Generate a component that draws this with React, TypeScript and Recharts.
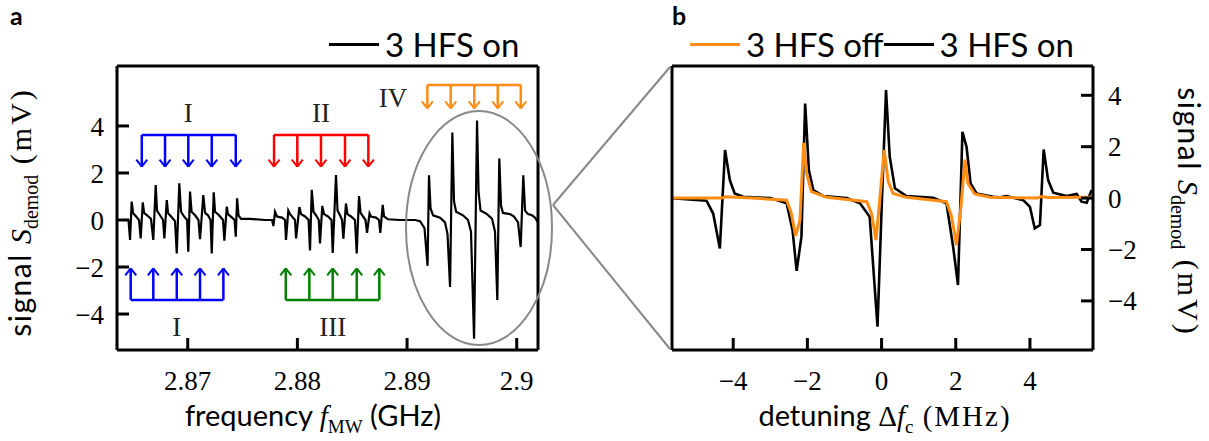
import React from "react";
import { LineChart, Line, XAxis, YAxis, ReferenceLine, ReferenceDot } from "recharts";

// panel a: microwave frequency (MHz) vs demodulated signal (mV)
const spectrumGroupI: [number, number][] = [
  [2863.55, 0.0], [2864.6, 0.0], [2864.74, -0.85], [2864.89, 0.78], [2865.01, 0.3], [2865.29, 0.15], [2865.56, 0.0],
  [2865.71, -0.78], [2865.9, 0.75], [2866.02, 0.3], [2866.29, 0.2], [2866.65, 0.05],
  [2866.86, -0.85], [2867.08, 1.49], [2867.2, 0.4], [2867.47, 0.2], [2867.75, 0.0],
  [2867.87, -0.78], [2868.09, 0.85], [2868.2, 0.3], [2868.48, 0.15], [2868.84, -0.05],
  [2869.0, -1.42], [2869.23, 1.56], [2869.39, 0.35], [2869.66, 0.15], [2869.94, 0.0],
  [2870.05, -1.35], [2870.21, 1.21], [2870.35, 0.35], [2870.67, 0.2], [2870.98, 0.0],
  [2871.12, -0.82], [2871.42, 1.06], [2871.58, 0.3], [2871.85, 0.2], [2872.08, 0.0],
  [2872.19, -1.42], [2872.37, 1.18], [2872.49, 0.35], [2872.85, 0.2], [2873.22, 0.0],
  [2873.34, -0.88], [2873.56, 0.57], [2873.67, 0.25], [2874.04, 0.1], [2874.27, 0.0],
  [2874.38, -0.71], [2874.5, 0.92], [2874.63, 0.2], [2874.86, 0.05], [2875.68, 0.05], [2877.05, 0.0], [2877.69, 0.0],
];
const spectrumGroupII: [number, number][] = [
  [2877.81, -0.26], [2877.96, 0.35], [2878.14, 0.15], [2878.6, 0.1], [2878.87, 0.0],
  [2878.96, -0.85], [2879.17, 0.4], [2879.33, 0.25], [2879.6, 0.1], [2879.78, 0.0],
  [2879.88, -0.78], [2880.18, 0.55], [2880.33, 0.25], [2880.7, 0.15], [2881.02, 0.0],
  [2881.15, -1.3], [2881.31, 1.28], [2881.47, 0.35], [2881.7, 0.2], [2881.95, 0.0],
  [2882.06, -1.0], [2882.27, 0.6], [2882.43, 0.25], [2882.79, 0.15], [2883.11, 0.0],
  [2883.22, -1.4], [2883.52, 1.91], [2883.66, 0.4], [2883.89, 0.2], [2884.07, 0.0],
  [2884.19, -0.8], [2884.43, 0.7], [2884.57, 0.25], [2884.89, 0.15], [2885.25, 0.0],
  [2885.41, -1.42], [2885.62, 1.02], [2885.76, 0.3], [2885.98, 0.15], [2886.21, 0.0],
  [2886.35, -0.55], [2886.58, 0.28], [2886.71, 0.15], [2887.17, 0.1], [2887.44, 0.0],
  [2887.56, -0.55], [2887.78, 0.64], [2887.9, 0.15], [2888.26, 0.03], [2889.36, 0.0], [2890.73, 0.0],
];
const spectrumGroupIV: [number, number][] = [
  [2891.18, -0.05], [2891.59, -0.35], [2891.87, -1.95], [2892.0, 1.9], [2892.14, 0.5], [2892.37, 0.2], [2893.01, 0.1],
  [2893.46, -0.1], [2893.69, -0.6], [2893.92, -2.85], [2894.13, 3.72], [2894.28, 0.8], [2894.47, 0.35], [2895.1, 0.2],
  [2895.56, 0.0], [2895.83, -0.5], [2896.11, -5.05], [2896.38, 4.23], [2896.52, 1.2], [2896.7, 0.4], [2897.29, 0.25],
  [2897.75, 0.05], [2898.02, -0.5], [2898.23, -3.4], [2898.41, 2.62], [2898.57, 0.6], [2898.75, 0.3], [2899.39, 0.25],
  [2899.75, 0.15], [2900.12, -0.1], [2900.36, -1.15], [2900.6, 1.9], [2900.76, 0.4], [2901.03, 0.25], [2901.4, 0.2],
  [2901.67, 0.1], [2901.94, -0.1],
];

// hyperfine combs (MHz) drawn above / below the spectrum
const combTopI = [2865.81, 2867.93, 2870.05, 2872.19, 2874.38];
const combII = [2877.87, 2879.99, 2882.15, 2884.34, 2886.47];
const combIV = [2891.85, 2893.98, 2896.13, 2898.27, 2900.37];
const combBottomI = [2864.8, 2866.86, 2869.0, 2871.12, 2873.25];
const combIII = [2878.94, 2881.09, 2883.22, 2885.41, 2887.47];

// panel b: detuning (MHz) vs signal (mV)
const hfsOn: [number, number][] = [
  [-5.66, 0.0], [-4.72, -0.1], [-4.54, -0.6], [-4.36, -1.96], [-4.22, 1.87], [-4.09, 0.7], [-3.96, 0.18], [-3.73, 0.05],
  [-3.0, 0.0], [-2.56, -0.2], [-2.4, -1.25], [-2.29, -2.83], [-2.16, -1.5], [-2.06, 3.68], [-1.96, 1.09], [-1.84, 0.31],
  [-1.57, 0.08], [-0.94, 0.0], [-0.58, -0.2], [-0.32, -0.73], [-0.11, -5.0], [0.0, -0.47], [0.12, 4.2], [0.22, 1.61],
  [0.36, 0.38], [0.67, 0.08], [1.39, 0.01], [1.75, -0.2], [1.93, -1.9], [2.06, -3.38], [2.18, 2.58], [2.29, 2.0],
  [2.4, 0.57], [2.56, 0.18], [3.01, 0.05], [3.2, 0.03], [3.37, 0.08], [3.5, 0.03], [3.82, -0.08], [4.0, -0.34],
  [4.13, -1.18], [4.27, -1.05], [4.37, 1.89], [4.49, 0.7], [4.63, 0.21], [4.99, 0.08], [5.26, 0.16], [5.39, -0.14],
  [5.53, -0.18], [5.66, 0.31],
];
const hfsOff: [number, number][] = [
  [-5.66, 0.0], [-4.3, 0.0], [-4.22, 0.05], [-3.5, 0.0], [-2.56, -0.08], [-2.43, -0.6], [-2.32, -1.47], [-2.2, -0.86],
  [-2.1, 2.15], [-2.02, 0.96], [-1.89, 0.25], [-1.48, 0.03], [-0.4, -0.14], [-0.27, -0.6], [-0.15, -1.63], [-0.05, -0.08],
  [0.07, 1.87], [0.18, 0.64], [0.31, 0.18], [0.67, 0.03], [1.75, -0.14], [1.89, -0.73], [2.02, -1.83], [2.14, -0.34],
  [2.25, 1.5], [2.33, 0.57], [2.51, 0.16], [2.92, 0.03], [4.2, 0.0], [4.3, 0.06], [4.5, 0.02], [5.66, 0.03],
];

const freqTicks = [2870, 2880, 2890, 2900];
const signalTicks = [-4, -2, 0, 2, 4];
const detuningTicks = [-4, -2, 0, 2, 4];

const SANS = 'Lato, "DejaVu Sans", sans-serif';
const SERIF = '"Liberation Serif", "DejaVu Serif", serif';
const ORANGE = "#ff8c14";

const toRows = (pts: [number, number][]) => pts.map(([x, y]) => ({ x, y }));
const spectrumRows = toRows([...spectrumGroupI, ...spectrumGroupII, ...spectrumGroupIV]);
const onRows = toRows(hfsOn);
const offRows = toRows(hfsOff);

const minus = (v: number) => String(v).replace("-", "\u2212");
const tickFont = { fontSize: 27, fontFamily: SERIF, fill: "#000" };
const frame = { stroke: "#000", strokeWidth: 3 };

function comb(xs: number[], barY: number, tipY: number, color: string, key: string) {
  const dx = 0.5;
  const dy = tipY < barY ? 0.3 : -0.3;
  const items: React.ReactNode[] = [];
  items.push(
    <ReferenceLine key={key + "bar"} segment={[{ x: xs[0], y: barY }, { x: xs[xs.length - 1], y: barY }]} stroke={color} strokeWidth={2.5} />
  );
  xs.forEach((x, i) => {
    items.push(<ReferenceLine key={key + "s" + i} segment={[{ x, y: barY }, { x, y: tipY }]} stroke={color} strokeWidth={2.5} />);
    items.push(<ReferenceLine key={key + "l" + i} segment={[{ x: x - dx, y: tipY + dy }, { x, y: tipY }]} stroke={color} strokeWidth={2} />);
    items.push(<ReferenceLine key={key + "r" + i} segment={[{ x: x + dx, y: tipY + dy }, { x, y: tipY }]} stroke={color} strokeWidth={2} />);
  });
  return items;
}

function numeral(x: number, y: number, text: string) {
  return (
    <ReferenceDot key={"n" + text + x} x={x} y={y} r={0} fill="none" stroke="none"
      label={{ value: text, position: "center", fill: "#222", fontSize: 27, fontFamily: SERIF }} />
  );
}

function PanelA() {
  return (
    <LineChart width={560} height={441} data={spectrumRows} margin={{ top: 65, right: 21, bottom: 61, left: 57 }}>
      <XAxis dataKey="x" type="number" domain={[2863.55, 2901.94]} allowDataOverflow ticks={freqTicks}
        tickFormatter={(v: number) => String(v / 1000)} tick={tickFont} tickSize={-12} tickMargin={33}
        axisLine={frame} tickLine={frame} height={30} />
      <XAxis xAxisId="t" orientation="top" type="number" domain={[2863.55, 2901.94]} allowDataOverflow ticks={freqTicks}
        tick={false} tickSize={-12} axisLine={frame} tickLine={frame} height={1} />
      <YAxis type="number" domain={[-5.53, 6.55]} allowDataOverflow ticks={signalTicks} tickFormatter={minus}
        tick={tickFont} tickSize={-12} tickMargin={25} axisLine={frame} tickLine={frame} width={60} />
      <YAxis yAxisId="r" orientation="right" type="number" domain={[-5.53, 6.55]} allowDataOverflow ticks={signalTicks}
        tick={false} tickSize={-12} axisLine={frame} tickLine={frame} width={1} />
      {comb(combTopI, 3.62, 2.27, "#0000ff", "ti")}
      {comb(combII, 3.62, 2.27, "#ff0000", "ii")}
      {comb(combIV, 5.74, 4.75, ORANGE, "iv")}
      {comb(combBottomI, -3.4, -2.06, "#0000ff", "bi")}
      {comb(combIII, -3.4, -2.06, "#008000", "iii")}
      {numeral(2870.05, 4.57, "I")}
      {numeral(2882.15, 4.57, "II")}
      {numeral(2888.72, 5.23, "IV")}
      {numeral(2869.0, -4.51, "I")}
      {numeral(2883.22, -4.51, "III")}
      <Line dataKey="y" type="linear" stroke="#000" strokeWidth={2.2} dot={false} isAnimationActive={false} />
    </LineChart>
  );
}

function PanelB() {
  return (
    <LineChart width={609} height={441} margin={{ top: 65, right: 56, bottom: 61, left: 71 }}>
      <XAxis dataKey="x" type="number" domain={[-5.65, 5.7]} allowDataOverflow ticks={detuningTicks}
        tickFormatter={minus} tick={tickFont} tickSize={-12} tickMargin={33} axisLine={frame} tickLine={frame} height={30} />
      <XAxis xAxisId="t" orientation="top" type="number" domain={[-5.65, 5.7]} allowDataOverflow ticks={detuningTicks}
        tick={false} tickSize={-12} axisLine={frame} tickLine={frame} height={1} />
      <YAxis orientation="right" type="number" domain={[-5.91, 5.14]} allowDataOverflow ticks={signalTicks}
        tickFormatter={minus} tick={tickFont} tickSize={-12} tickMargin={27} axisLine={frame} tickLine={frame} width={60} />
      <YAxis yAxisId="l" orientation="left" type="number" domain={[-5.91, 5.14]} allowDataOverflow ticks={signalTicks}
        tick={false} tickSize={-12} axisLine={frame} tickLine={frame} width={1} />
      <Line data={onRows} dataKey="y" type="linear" stroke="#000" strokeWidth={2.6} dot={false} isAnimationActive={false} />
      <Line data={offRows} dataKey="y" type="linear" stroke={ORANGE} strokeWidth={3} dot={false} isAnimationActive={false} />
    </LineChart>
  );
}

const abs = (left: number, top: number, extra: React.CSSProperties = {}): React.CSSProperties => ({
  position: "absolute", left, top, whiteSpace: "nowrap", ...extra,
});

function LegendItem({ color, text }: { color: string; text: string }) {
  return (
    <span style={{ display: "inline-flex", alignItems: "center" }}>
      <span style={{ display: "inline-block", width: 50, height: 3, background: color, marginRight: 6 }} />
      <span>{text}</span>
    </span>
  );
}

const label: React.CSSProperties = { fontSize: 29, lineHeight: "36px" };
const vlabel: React.CSSProperties = { fontSize: 30, lineHeight: "36px" };
const sub: React.CSSProperties = { fontFamily: SERIF, fontSize: 19 };
const vsub: React.CSSProperties = { fontFamily: SERIF, fontSize: 20 };
const letter: React.CSSProperties = { fontFamily: SANS, fontWeight: 700, fontSize: 25 };

export default function App() {
  return (
    <div style={{ position: "fixed", left: 0, top: 0, width: 1209, height: 441, background: "#fff", overflow: "hidden" }}>
      <div style={abs(0, 0)}><PanelA /></div>
      <div style={abs(600, 0)}><PanelB /></div>

      <svg width={1209} height={441} style={abs(0, 0, { pointerEvents: "none" })}>
        <ellipse cx={479} cy={228} rx={73} ry={117} fill="none" stroke="#888" strokeWidth={2} />
        <line x1={553} y1={205} x2={670} y2={67} stroke="#888" strokeWidth={2} />
        <line x1={553} y1={205} x2={670} y2={349} stroke="#888" strokeWidth={2} />
      </svg>

      <div style={abs(10, 0, letter)}>a</div>
      <div style={abs(672, 0, letter)}>b</div>

      <div style={abs(329, 25, { fontFamily: SANS, fontSize: 33, lineHeight: "38px", display: "flex" })}>
        <LegendItem color="#000" text="3 HFS on" />
      </div>
      <div style={abs(690, 25, { fontFamily: SANS, fontSize: 33, lineHeight: "38px", display: "flex" })}>
        <LegendItem color={ORANGE} text="3 HFS off" />
        <LegendItem color="#000" text="3 HFS on" />
      </div>

      <div style={abs(313, 397, { transform: "translateX(-50%)", ...label })}>
        <span style={{ fontFamily: SANS }}>frequency </span>
        <span style={{ fontFamily: SERIF, fontStyle: "italic" }}>f</span>
        <sub style={sub}>MW</sub>
        <span style={{ fontFamily: SANS }}> (GHz)</span>
      </div>
      <div style={abs(885, 397, { transform: "translateX(-50%)", ...label })}>
        <span style={{ fontFamily: SANS }}>detuning </span>
        <span style={{ fontFamily: SERIF }}>Δ</span>
        <span style={{ fontFamily: SERIF, fontStyle: "italic" }}>f</span>
        <sub style={sub}>c</sub>
        <span style={{ fontFamily: SERIF, letterSpacing: 2 }}> (MHz)</span>
      </div>
      <div style={abs(25, 212, { transform: "translate(-50%, -50%) rotate(-90deg)", ...vlabel })}>
        <span style={{ fontFamily: SANS, letterSpacing: 1.5 }}>signal </span>
        <span style={{ fontFamily: SERIF, fontStyle: "italic" }}>S</span>
        <sub style={vsub}>demod</sub>
        <span style={{ fontFamily: SERIF, letterSpacing: 3 }}> (mV)</span>
      </div>
      <div style={abs(1184, 212, { transform: "translate(-50%, -50%) rotate(90deg)", ...vlabel })}>
        <span style={{ fontFamily: SANS, letterSpacing: 1.5 }}>signal </span>
        <span style={{ fontFamily: SERIF, fontStyle: "italic" }}>S</span>
        <sub style={vsub}>demod</sub>
        <span style={{ fontFamily: SERIF, letterSpacing: 3 }}> (mV)</span>
      </div>
    </div>
  );
}
